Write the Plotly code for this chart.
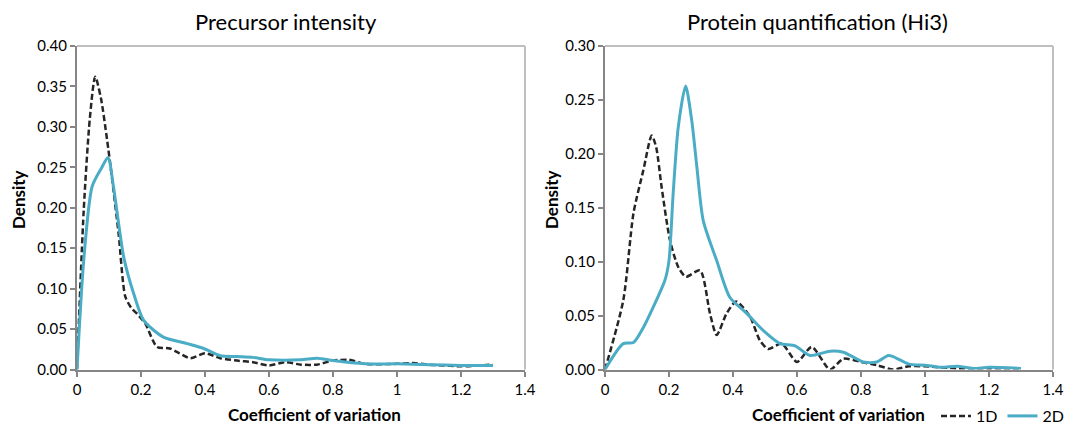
import plotly.graph_objects as go

# Left panel: Precursor intensity
prec_1d_x = [0, 0.021, 0.04, 0.057, 0.075, 0.094, 0.109, 0.13, 0.151, 0.17, 0.1875, 0.213, 0.25, 0.29, 0.32, 0.354, 0.40, 0.448, 0.5, 0.55, 0.6, 0.65, 0.7, 0.75, 0.8, 0.85, 0.9, 1.0, 1.05, 1.1, 1.15, 1.2, 1.3]
prec_1d_y = [0, 0.197, 0.31, 0.362, 0.335, 0.284, 0.238, 0.168, 0.09, 0.076, 0.069, 0.057, 0.028, 0.026, 0.02, 0.014, 0.020, 0.014, 0.011, 0.009, 0.005, 0.009, 0.006, 0.006, 0.011, 0.012, 0.007, 0.007, 0.008, 0.006, 0.005, 0.004, 0.006]
prec_2d_x = [0, 0.021, 0.047, 0.075, 0.097, 0.114, 0.146, 0.177, 0.208, 0.27, 0.344, 0.396, 0.448, 0.5, 0.55, 0.6, 0.7, 0.75, 0.8, 0.9, 1.0, 1.1, 1.2, 1.3]
prec_2d_y = [0, 0.135, 0.226, 0.248, 0.262, 0.226, 0.139, 0.094, 0.061, 0.040, 0.032, 0.026, 0.017, 0.016, 0.015, 0.012, 0.012, 0.014, 0.011, 0.007, 0.007, 0.006, 0.005, 0.005]

# Right panel: Protein quantification (Hi3)
prot_1d_x = [0, 0.057, 0.089, 0.12, 0.146, 0.16, 0.177, 0.203, 0.229, 0.253, 0.297, 0.328, 0.349, 0.38, 0.41, 0.453, 0.484, 0.51, 0.552, 0.6, 0.646, 0.703, 0.745, 0.8, 0.85, 0.9, 0.95, 1.0, 1.1, 1.2, 1.3]
prot_1d_y = [0, 0.064, 0.145, 0.185, 0.217, 0.206, 0.169, 0.120, 0.095, 0.086, 0.092, 0.052, 0.032, 0.052, 0.063, 0.049, 0.027, 0.019, 0.024, 0.007, 0.021, 0.0, 0.010, 0.007, 0.004, 0.0, 0.003, 0.003, 0.001, 0.001, 0.001]
prot_2d_x = [0, 0.057, 0.089, 0.12, 0.151, 0.1875, 0.20, 0.213, 0.229, 0.252, 0.271, 0.287, 0.307, 0.349, 0.39, 0.443, 0.495, 0.547, 0.594, 0.64, 0.703, 0.745, 0.807, 0.849, 0.885, 0.9, 0.95, 1.0, 1.05, 1.1, 1.15, 1.2, 1.3]
prot_2d_y = [0, 0.024, 0.025, 0.039, 0.058, 0.083, 0.101, 0.163, 0.225, 0.263, 0.231, 0.188, 0.138, 0.101, 0.067, 0.052, 0.036, 0.024, 0.022, 0.013, 0.017, 0.016, 0.007, 0.007, 0.013, 0.012, 0.005, 0.004, 0.002, 0.003, 0.001, 0.002, 0.001]

x_ticks = [0, 0.2, 0.4, 0.6, 0.8, 1.0, 1.2, 1.4]
x_tick_labels = ["0", "0.2", "0.4", "0.6", "0.8", "1", "1.2", "1.4"]

BLACK = "#262626"
BLUE = "#4bacc6"
FONT = "Lato"
DASH = "6px,3px"

fig = go.Figure()
fig.add_trace(go.Scatter(x=prec_1d_x, y=prec_1d_y, mode="lines", line=dict(color=BLACK, width=2.5, dash=DASH, shape="spline", smoothing=0.7), name="1D", showlegend=True, xaxis="x", yaxis="y"))
fig.add_trace(go.Scatter(x=prec_2d_x, y=prec_2d_y, mode="lines", line=dict(color=BLUE, width=3, shape="spline", smoothing=0.7), name="2D", showlegend=True, xaxis="x", yaxis="y"))
fig.add_trace(go.Scatter(x=prot_1d_x, y=prot_1d_y, mode="lines", line=dict(color=BLACK, width=2.5, dash=DASH, shape="spline", smoothing=0.7), name="1D", showlegend=False, xaxis="x2", yaxis="y2"))
fig.add_trace(go.Scatter(x=prot_2d_x, y=prot_2d_y, mode="lines", line=dict(color=BLUE, width=3, shape="spline", smoothing=0.7), name="2D", showlegend=False, xaxis="x2", yaxis="y2"))

W, H = 1069, 425
def px(v):
    return v / W
def py(v):
    return 1 - v / H

ydom = [py(369.5), py(46)]
axis_common = dict(showgrid=False, zeroline=False, showline=True, linecolor="#868686", linewidth=2,
                   ticks="outside", ticklen=5, tickwidth=1.5, tickcolor="#868686", automargin=False,
                   tickfont=dict(family=FONT, size=15, color="#000000"))

def ann(text, x, y, size, angle=0):
    return dict(text=text, x=px(x), y=py(y), xref="paper", yref="paper", showarrow=False,
                xanchor="center", yanchor="middle", textangle=angle, font=dict(family=FONT, size=size))

fig.update_layout(
    template="none",
    width=W, height=H, margin=dict(l=0, r=0, t=0, b=0, autoexpand=False),
    paper_bgcolor="white", plot_bgcolor="white",
    font=dict(family=FONT, color="#000000"),
    xaxis=dict(domain=[px(77), px(525)], range=[0, 1.4], tickvals=x_ticks, ticktext=x_tick_labels, anchor="y", **axis_common),
    yaxis=dict(domain=ydom, range=[0, 0.40], dtick=0.05, tickformat=".2f", anchor="x", **axis_common),
    xaxis2=dict(domain=[px(605), px(1053)], range=[0, 1.4], tickvals=x_ticks, ticktext=x_tick_labels, anchor="y2", **axis_common),
    yaxis2=dict(domain=ydom, range=[0, 0.30], dtick=0.05, tickformat=".2f", anchor="x2", **axis_common),
    legend=dict(orientation="h", x=1.0, xanchor="right", y=py(416), yanchor="middle",
                font=dict(family=FONT, size=16), itemwidth=30, tracegroupgap=0, bgcolor="rgba(0,0,0,0)"),
    shapes=[
        dict(type="line", xref="paper", yref="paper", x0=px(77), x1=px(525), y0=py(46), y1=py(46), line=dict(color="#bfbfbf", width=2)),
        dict(type="line", xref="paper", yref="paper", x0=px(525), x1=px(525), y0=py(46), y1=py(369.5), line=dict(color="#bfbfbf", width=2)),
        dict(type="line", xref="paper", yref="paper", x0=px(605), x1=px(1053), y0=py(46), y1=py(46), line=dict(color="#bfbfbf", width=2)),
        dict(type="line", xref="paper", yref="paper", x0=px(1053), x1=px(1053), y0=py(46), y1=py(369.5), line=dict(color="#bfbfbf", width=2)),
    ],
    annotations=[
        ann("Precursor intensity", 286, 22, 22),
        ann("Protein quantification (Hi3)", 817, 22, 22),
        ann("<b>Coefficient of variation</b>", 314, 414, 17),
        ann("<b>Coefficient of variation</b>", 838, 414, 17),
        ann("<b>Density</b>", 18, 200, 17, -90),
        ann("<b>Density</b>", 551, 200, 17, -90),
    ],
)

fig.write_html("out.html")
